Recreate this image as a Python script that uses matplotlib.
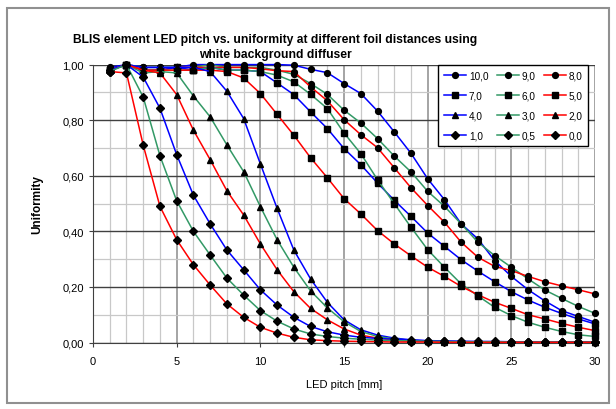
import numpy as np
import matplotlib
matplotlib.use("Agg")
import matplotlib.pyplot as plt
from matplotlib.patches import Rectangle
from matplotlib.ticker import FuncFormatter

plt.rcParams['font.family'] = ['Liberation Sans', 'DejaVu Sans']

# LED pitch [mm]
pitch = list(range(1, 31))

# uniformity per foil distance
u_100 = [0.99, 1.00, 0.99, 0.99, 0.99, 1.00, 1.00, 1.00, 1.00, 1.00, 1.00, 0.998, 0.983, 0.971, 0.932,
         0.896, 0.833, 0.758, 0.681, 0.589, 0.514, 0.427, 0.373, 0.295, 0.238, 0.19, 0.15, 0.115, 0.094, 0.073]
u_90 = [0.98, 1.00, 0.99, 0.99, 0.99, 0.99, 1.00, 0.99, 0.99, 0.99, 0.98, 0.965, 0.932, 0.893, 0.836,
        0.79, 0.734, 0.671, 0.614, 0.544, 0.49, 0.427, 0.361, 0.313, 0.271, 0.229, 0.189, 0.159, 0.13, 0.105]
u_80 = [0.98, 1.00, 0.98, 0.98, 0.99, 0.99, 0.99, 0.99, 0.99, 0.985, 0.978, 0.975, 0.92, 0.87, 0.802,
        0.748, 0.701, 0.629, 0.557, 0.493, 0.433, 0.361, 0.307, 0.274, 0.259, 0.238, 0.219, 0.204, 0.19, 0.175]
u_70 = [0.98, 1.00, 0.98, 0.98, 0.99, 0.98, 0.99, 0.98, 0.98, 0.975, 0.934, 0.892, 0.83, 0.77, 0.698,
        0.64, 0.574, 0.512, 0.454, 0.394, 0.346, 0.298, 0.257, 0.219, 0.183, 0.153, 0.127, 0.105, 0.085, 0.067]
u_60 = [0.98, 1.00, 0.98, 0.98, 0.98, 0.98, 0.99, 0.98, 0.98, 0.975, 0.962, 0.938, 0.893, 0.842, 0.754,
        0.68, 0.586, 0.50, 0.415, 0.334, 0.271, 0.211, 0.168, 0.127, 0.097, 0.073, 0.055, 0.04, 0.028, 0.022]
u_50 = [0.98, 1.00, 0.98, 0.98, 0.98, 0.98, 0.98, 0.975, 0.952, 0.896, 0.821, 0.746, 0.665, 0.593, 0.518,
        0.463, 0.403, 0.355, 0.312, 0.271, 0.238, 0.202, 0.172, 0.145, 0.123, 0.10, 0.085, 0.069, 0.055, 0.043]
u_40 = [0.98, 1.00, 0.99, 0.99, 0.99, 0.99, 0.975, 0.904, 0.806, 0.643, 0.483, 0.333, 0.229, 0.145, 0.082,
        0.046, 0.027, 0.016, 0.010, 0.006, 0.004, 0.003, 0.003, 0.002, 0.002, 0.002, 0.002, 0.002, 0.002, 0.002]
u_30 = [0.98, 1.00, 0.97, 0.975, 0.97, 0.887, 0.812, 0.711, 0.615, 0.489, 0.37, 0.271, 0.186, 0.125, 0.075,
        0.04, 0.022, 0.013, 0.008, 0.005, 0.004, 0.003, 0.002, 0.002, 0.002, 0.002, 0.002, 0.002, 0.002, 0.002]
u_20 = [0.98, 1.00, 0.98, 0.97, 0.892, 0.764, 0.658, 0.546, 0.459, 0.355, 0.262, 0.183, 0.123, 0.082, 0.049,
        0.027, 0.016, 0.009, 0.005, 0.004, 0.003, 0.002, 0.002, 0.002, 0.002, 0.002, 0.002, 0.002, 0.002, 0.002]
u_10 = [0.98, 1.00, 0.955, 0.843, 0.676, 0.53, 0.427, 0.333, 0.262, 0.19, 0.135, 0.091, 0.058, 0.039, 0.027,
        0.019, 0.015, 0.012, 0.009, 0.007, 0.006, 0.005, 0.004, 0.004, 0.003, 0.003, 0.003, 0.003, 0.003, 0.003]
u_05 = [0.975, 1.00, 0.883, 0.672, 0.51, 0.40, 0.315, 0.232, 0.171, 0.115, 0.077, 0.049, 0.031, 0.022, 0.016,
        0.012, 0.009, 0.007, 0.006, 0.005, 0.004, 0.003, 0.003, 0.003, 0.002, 0.002, 0.002, 0.002, 0.002, 0.002]
u_00 = [0.975, 0.97, 0.71, 0.49, 0.37, 0.28, 0.207, 0.139, 0.091, 0.055, 0.034, 0.019, 0.010, 0.007, 0.005,
        0.004, 0.003, 0.002, 0.002, 0.002, 0.001, 0.001, 0.001, 0.001, 0.001, 0.001, 0.001, 0.001, 0.001, 0.001]

labels = ['10,0', '9,0', '8,0', '7,0', '6,0', '5,0', '4,0', '3,0', '2,0', '1,0', '0,5', '0,0']
series = [u_100, u_90, u_80, u_70, u_60, u_50, u_40, u_30, u_20, u_10, u_05, u_00]

blue, green, red = '#0000ff', '#339966', '#ff0000'
colors = [blue, green, red] * 4
markers = ['o'] * 3 + ['s'] * 3 + ['^'] * 3 + ['D'] * 3
msizes = [4.2] * 3 + [4.0] * 3 + [4.6] * 3 + [3.6] * 3

fig = plt.figure(figsize=(6.16, 4.10), dpi=100)
fig.patches.append(Rectangle((0.011, 0.015), 0.978, 0.962, transform=fig.transFigure,
                             fill=False, edgecolor='#909090', lw=1.5))

ax = fig.add_axes([0.151, 0.162, 0.815, 0.678])
lines = []
for ys, lab, c, m, s in zip(series, labels, colors, markers, msizes):
    ln, = ax.plot(pitch, ys, color=c, lw=1.1, marker=m, ms=s, mfc='black', mec='black',
                  label=lab, zorder=3, clip_on=False)
    lines.append(ln)

ax.set_xlim(0, 30)
ax.set_ylim(0, 1.0)
ax.set_xticks(range(0, 31, 5))
ax.set_xticks(range(0, 31, 1), minor=True)
ax.set_yticks(np.arange(0, 1.01, 0.2))
ax.set_yticks(np.arange(0, 1.01, 0.1), minor=True)
ax.yaxis.set_major_formatter(FuncFormatter(lambda v, p: f'{v:.2f}'.replace('.', ',')))
ax.grid(which='minor', color='#c8c8c8', lw=0.9)
ax.grid(which='major', axis='x', color='#8c8c8c', lw=1.1)
ax.grid(which='major', axis='y', color='#404040', lw=1.0)
ax.set_axisbelow(True)
for sp in ['top', 'right']:
    ax.spines[sp].set_visible(False)
for sp in ['left', 'bottom']:
    ax.spines[sp].set_color('#404040')
ax.tick_params(axis='both', which='major', length=3, direction='out', labelsize=8, color='#404040')
ax.tick_params(axis='x', which='major', pad=7)
ax.tick_params(which='minor', length=0)

ax.set_xlabel('LED pitch [mm]', fontsize=8, labelpad=9)
ax.set_ylabel('Uniformity', fontsize=8.5, fontweight='bold', labelpad=14)

fig.text(275 / 616, 1 - 47.5 / 410, 'BLIS element LED pitch vs. uniformity at different foil distances using\nwhite background diffuser',
         ha='center', va='center', fontsize=8.7, fontweight='bold', linespacing=1.4)

order = [0, 3, 6, 9, 1, 4, 7, 10, 2, 5, 8, 11]
leg = ax.legend([lines[i] for i in order], [labels[i] for i in order], ncol=3,
                loc='upper right', bbox_to_anchor=(0.986, 1.0), fontsize=7.2, frameon=True,
                fancybox=False, edgecolor='black', framealpha=1, handlelength=2.2,
                handletextpad=0.3, columnspacing=0.8, labelspacing=1.0, borderpad=0.55,
                borderaxespad=0.0)
leg.get_frame().set_linewidth(1.0)
leg.set_zorder(5)

fig.savefig('out.png', dpi=100)
